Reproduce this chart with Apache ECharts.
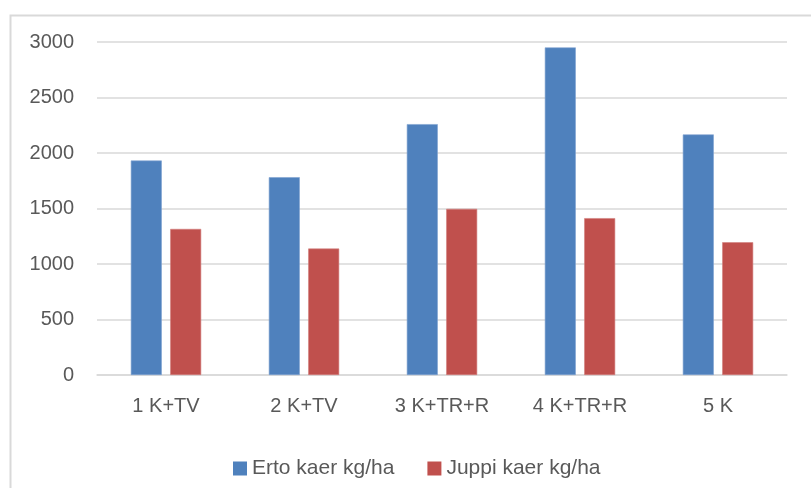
<!DOCTYPE html>
<html>
<head>
<meta charset="utf-8">
<script src="https://cdn.jsdelivr.net/npm/echarts@6/dist/echarts.min.js"></script>
<style>
  html, body { margin: 0; padding: 0; background: #fff; }
  #chart { width: 811px; height: 488px; }
</style>
</head>
<body>
<div id="chart"></div>
<script>
// categories and values
const categories = ['1 K+TV', '2 K+TV', '3 K+TR+R', '4 K+TR+R', '5 K'];
const ertoValues = [1932, 1782, 2260, 2951, 2167];
const juppiValues = [1316, 1139, 1497, 1413, 1196];
const seriesNames = ['Erto kaer kg/ha', 'Juppi kaer kg/ha'];

const textColor = '#595959';
const gridColor = '#d9d9d9';
const font = '"Liberation Sans", Arial, sans-serif';

const chart = echarts.init(document.getElementById('chart'));

const option = {
  animation: false,
  backgroundColor: '#fff',
  // outer frame of the chart area
  graphic: [
    {
      type: 'rect',
      left: 8,
      top: 13,
      shape: { width: 830, height: 500 },
      style: { fill: 'none', stroke: gridColor, lineWidth: 2 },
      silent: true
    }
  ],
  legend: {
    data: seriesNames,
    left: 228,
    top: 453,
    itemWidth: 14,
    itemHeight: 14,
    itemGap: 33,
    icon: 'rect',
    itemStyle: { borderWidth: 0 },
    textStyle: { color: textColor, fontSize: 21, fontFamily: font }
  },
  grid: {
    left: 97,
    right: 24,
    top: 42,
    bottom: 113,
    containLabel: false
  },
  xAxis: {
    type: 'category',
    data: categories,
    axisLine: { show: true, lineStyle: { color: gridColor, width: 1.5 } },
    axisTick: { show: false },
    axisLabel: { color: textColor, fontSize: 20, fontFamily: font, margin: 21 }
  },
  yAxis: {
    type: 'value',
    min: 0,
    max: 3000,
    interval: 500,
    axisLine: { show: false },
    axisTick: { show: false },
    splitLine: { lineStyle: { color: gridColor, width: 1.5 } },
    axisLabel: {
      color: textColor,
      fontSize: 20,
      fontFamily: font,
      margin: 23,
      formatter: (v) => String(v)
    }
  },
  series: [
    {
      name: seriesNames[0],
      type: 'bar',
      data: ertoValues,
      barWidth: 31,
      barGap: '27%',
      itemStyle: { color: '#4f81bd', borderColor: '#7fa3d1', borderWidth: 0.6 }
    },
    {
      name: seriesNames[1],
      type: 'bar',
      data: juppiValues,
      barWidth: 31,
      itemStyle: { color: '#c0504d', borderColor: '#d27f7d', borderWidth: 0.6 }
    }
  ]
};

chart.setOption(option);
</script>
</body>
</html>
